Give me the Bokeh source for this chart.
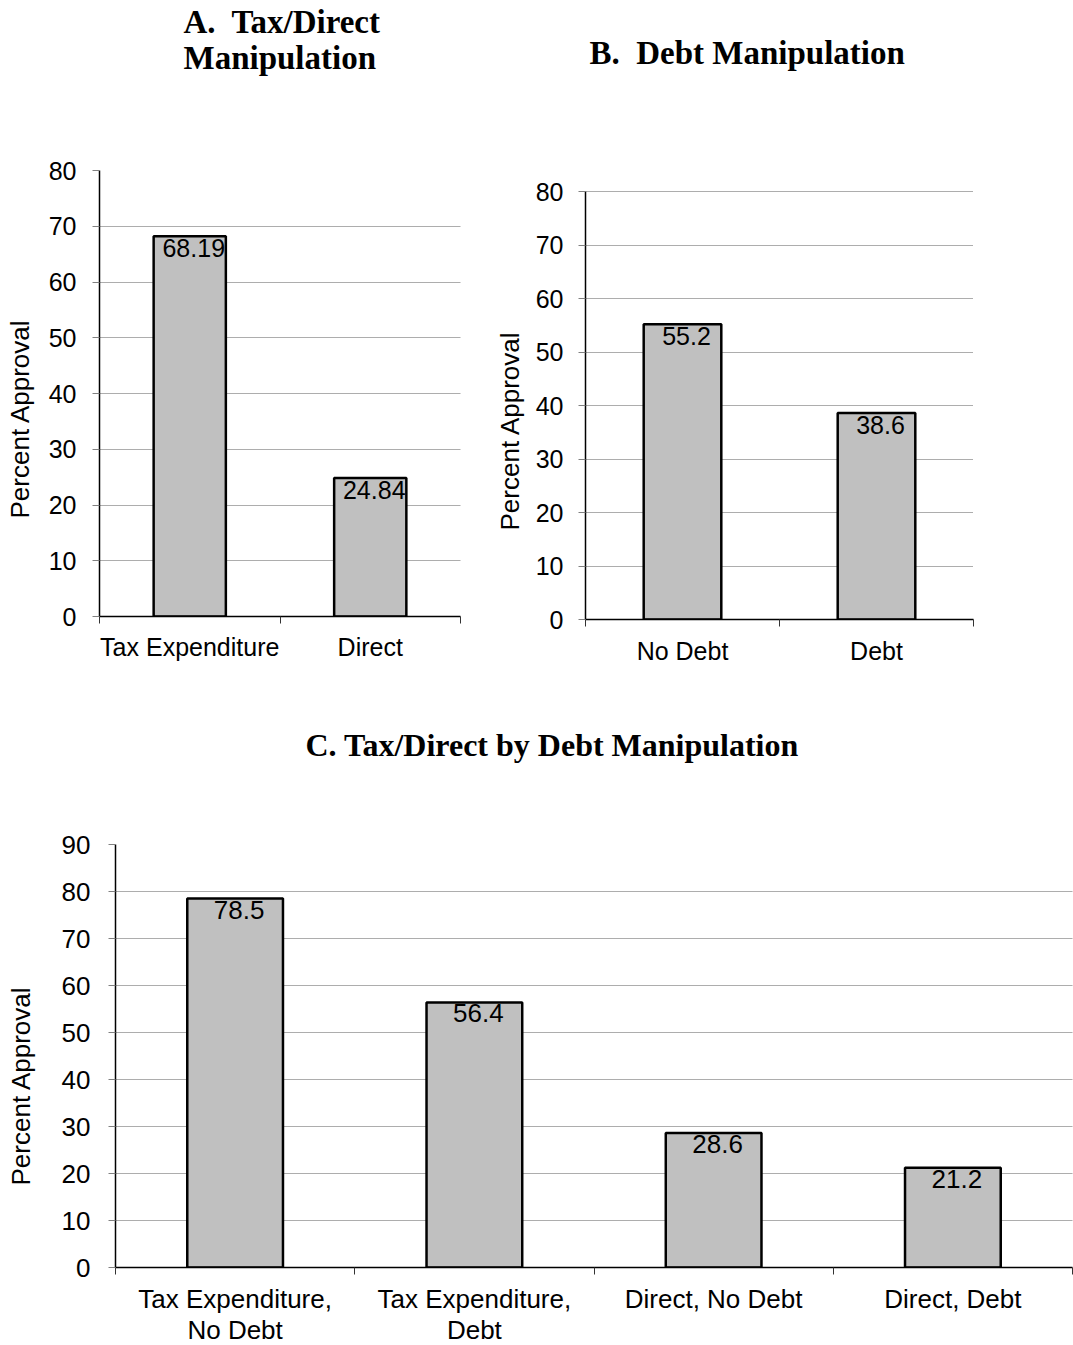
from bokeh.plotting import figure
from bokeh.layouts import column, row
from bokeh.models import ColumnDataSource, FixedTicker, Range1d, Title
from bokeh.core.properties import value
from bokeh.embed import file_html
from bokeh.resources import INLINE

SANS = "Liberation Sans"
SERIF = "Liberation Serif"
NB = "\u00a0"

# A. Tax/Direct manipulation
a_title = f"A.{NB} Tax/Direct\nManipulation"
a_categories = ["Tax Expenditure", "Direct"]
a_values = [68.19, 24.84]
a_yticks = [0, 10, 20, 30, 40, 50, 60, 70, 80]

# B. Debt manipulation
b_title = f"B.{NB} Debt Manipulation"
b_categories = ["No Debt", "Debt"]
b_values = [55.2, 38.6]
b_yticks = [0, 10, 20, 30, 40, 50, 60, 70, 80]

# C. Tax/Direct by debt manipulation
c_title = "C. Tax/Direct by Debt Manipulation"
c_categories = ["Tax Expenditure,\nNo Debt", "Tax Expenditure,\nDebt",
                "Direct, No Debt", "Direct, Debt"]
c_values = [78.5, 56.4, 28.6, 21.2]
c_yticks = [0, 10, 20, 30, 40, 50, 60, 70, 80, 90]

y_label = "Percent Approval"


def spacer(gap):
    # blank heading used only to push the next heading away from the frame
    return Title(text=" ", text_font_size="1px", standoff=max(gap - 3, 0))


def bar_panel(categories, values, yticks, title, title_style, title_gap,
              title_align, title_offset,
              frame_w, frame_h, borders, font_px,
              ytick_standoff, xtick_standoff, ylabel_gap, ylabel_offset,
              y_top=None, value_dy=3):
    n = len(categories)
    left, right, top, bottom = borders
    y_end = yticks[-1] if y_top is None else y_top
    p = figure(frame_width=frame_w, frame_height=frame_h,
               x_range=Range1d(0, n), y_range=Range1d(yticks[0], y_end),
               min_border_left=left, min_border_right=right,
               min_border_top=top, min_border_bottom=bottom,
               output_backend="svg", toolbar_location=None,
               background_fill_color="white", border_fill_color="white")
    p.outline_line_color = None
    p.title.text = ""
    p.title.standoff = 0

    # panel heading
    font, size, line_h = title_style
    p.add_layout(spacer(title_gap), "above")
    p.add_layout(Title(text=title, align=title_align, offset=title_offset,
                       vertical_align="bottom", standoff=0,
                       text_font=font, text_font_style="bold",
                       text_font_size=size, text_line_height=line_h,
                       text_color="black"), "above")

    # category axis: labels at centres, ticks on the category boundaries
    centers = [i + 0.5 for i in range(n)]
    xa = p.xaxis[0]
    xa.ticker = FixedTicker(ticks=centers, minor_ticks=list(range(n + 1)))
    xa.major_label_overrides = {c: lab for c, lab in zip(centers, categories)}
    xa.major_tick_out = 0
    xa.major_tick_in = 0
    xa.minor_tick_out = 7
    xa.minor_tick_in = 0
    xa.minor_tick_line_color = "#333333"
    xa.axis_line_color = "black"
    xa.axis_line_width = 1.5
    xa.major_label_standoff = xtick_standoff
    xa.major_label_text_font = SANS
    xa.major_label_text_font_size = f"{font_px}px"
    xa.major_label_text_line_height = 1.05
    xa.major_label_text_color = "black"
    xa.major_label_text_align = "center"
    p.xgrid.visible = False

    ya = p.yaxis[0]
    ya.ticker = FixedTicker(ticks=yticks, minor_ticks=[])
    ya.bounds = (yticks[0], yticks[-1])
    ya.major_tick_out = 7
    ya.major_tick_in = 0
    ya.major_tick_line_color = "#808080"
    ya.minor_tick_line_color = None
    ya.axis_line_color = "black"
    ya.axis_line_width = 1.5
    ya.major_label_standoff = ytick_standoff
    ya.major_label_text_font = SANS
    ya.major_label_text_font_size = f"{font_px}px"
    ya.major_label_text_color = "black"

    # value-axis caption, set beside the tick labels
    p.add_layout(spacer(ylabel_gap), "left")
    p.add_layout(Title(text=y_label, align="left", offset=ylabel_offset,
                       vertical_align="bottom", standoff=2,
                       text_font=SANS, text_font_style="normal",
                       text_font_size="26px", text_color="black"),
                 "left")

    p.ygrid.ticker = FixedTicker(ticks=yticks, minor_ticks=[])
    p.ygrid.grid_line_color = "#5a5a5a"
    p.ygrid.grid_line_dash = "1 1"
    p.ygrid.grid_line_width = 1

    src = ColumnDataSource(dict(x=centers, top=values,
                                label=[str(v) for v in values]))
    p.vbar(x="x", top="top", bottom=0, width=0.4, source=src,
           fill_color="#C0C0C0", line_color="black", line_width=2.5)
    p.text(x="x", y="top", text="label", source=src,
           text_align="center", text_baseline="top", x_offset=4,
           y_offset=value_dy,
           text_font=value(SANS), text_font_size=value(f"{font_px}px"),
           text_color="black")
    return p


pa = bar_panel(a_categories, a_values, a_yticks, a_title,
               (SERIF, "33px", 1.0), title_gap=95,
               title_align="left", title_offset=84,
               frame_w=361, frame_h=446, borders=(99, 20, 170, 84),
               font_px=25, ytick_standoff=16, xtick_standoff=9,
               ylabel_gap=10, ylabel_offset=98)

# the B frame starts level with A; its 0-80 scale fills the lower 428 px
b_frame_h = 449
pb = bar_panel(b_categories, b_values, b_yticks, b_title,
               (SERIF, "33px", 1.2), title_gap=100,
               title_align="left", title_offset=4,
               frame_w=388, frame_h=b_frame_h, borders=(105, 100, 170, 81),
               font_px=25, ytick_standoff=15, xtick_standoff=10,
               ylabel_gap=7, ylabel_offset=89,
               y_top=80 * b_frame_h / 428)

pc = bar_panel(c_categories, c_values, c_yticks, c_title,
               (SERIF, "32px", 1.2), title_gap=82,
               title_align="left", title_offset=190,
               frame_w=957, frame_h=423, borders=(115, 1, 144, 78),
               font_px=26, ytick_standoff=18, xtick_standoff=9,
               ylabel_gap=22, ylabel_offset=82, value_dy=2)

layout = column(row(pa, pb), pc)

with open("out.html", "w") as f:
    f.write(file_html(layout, INLINE))
